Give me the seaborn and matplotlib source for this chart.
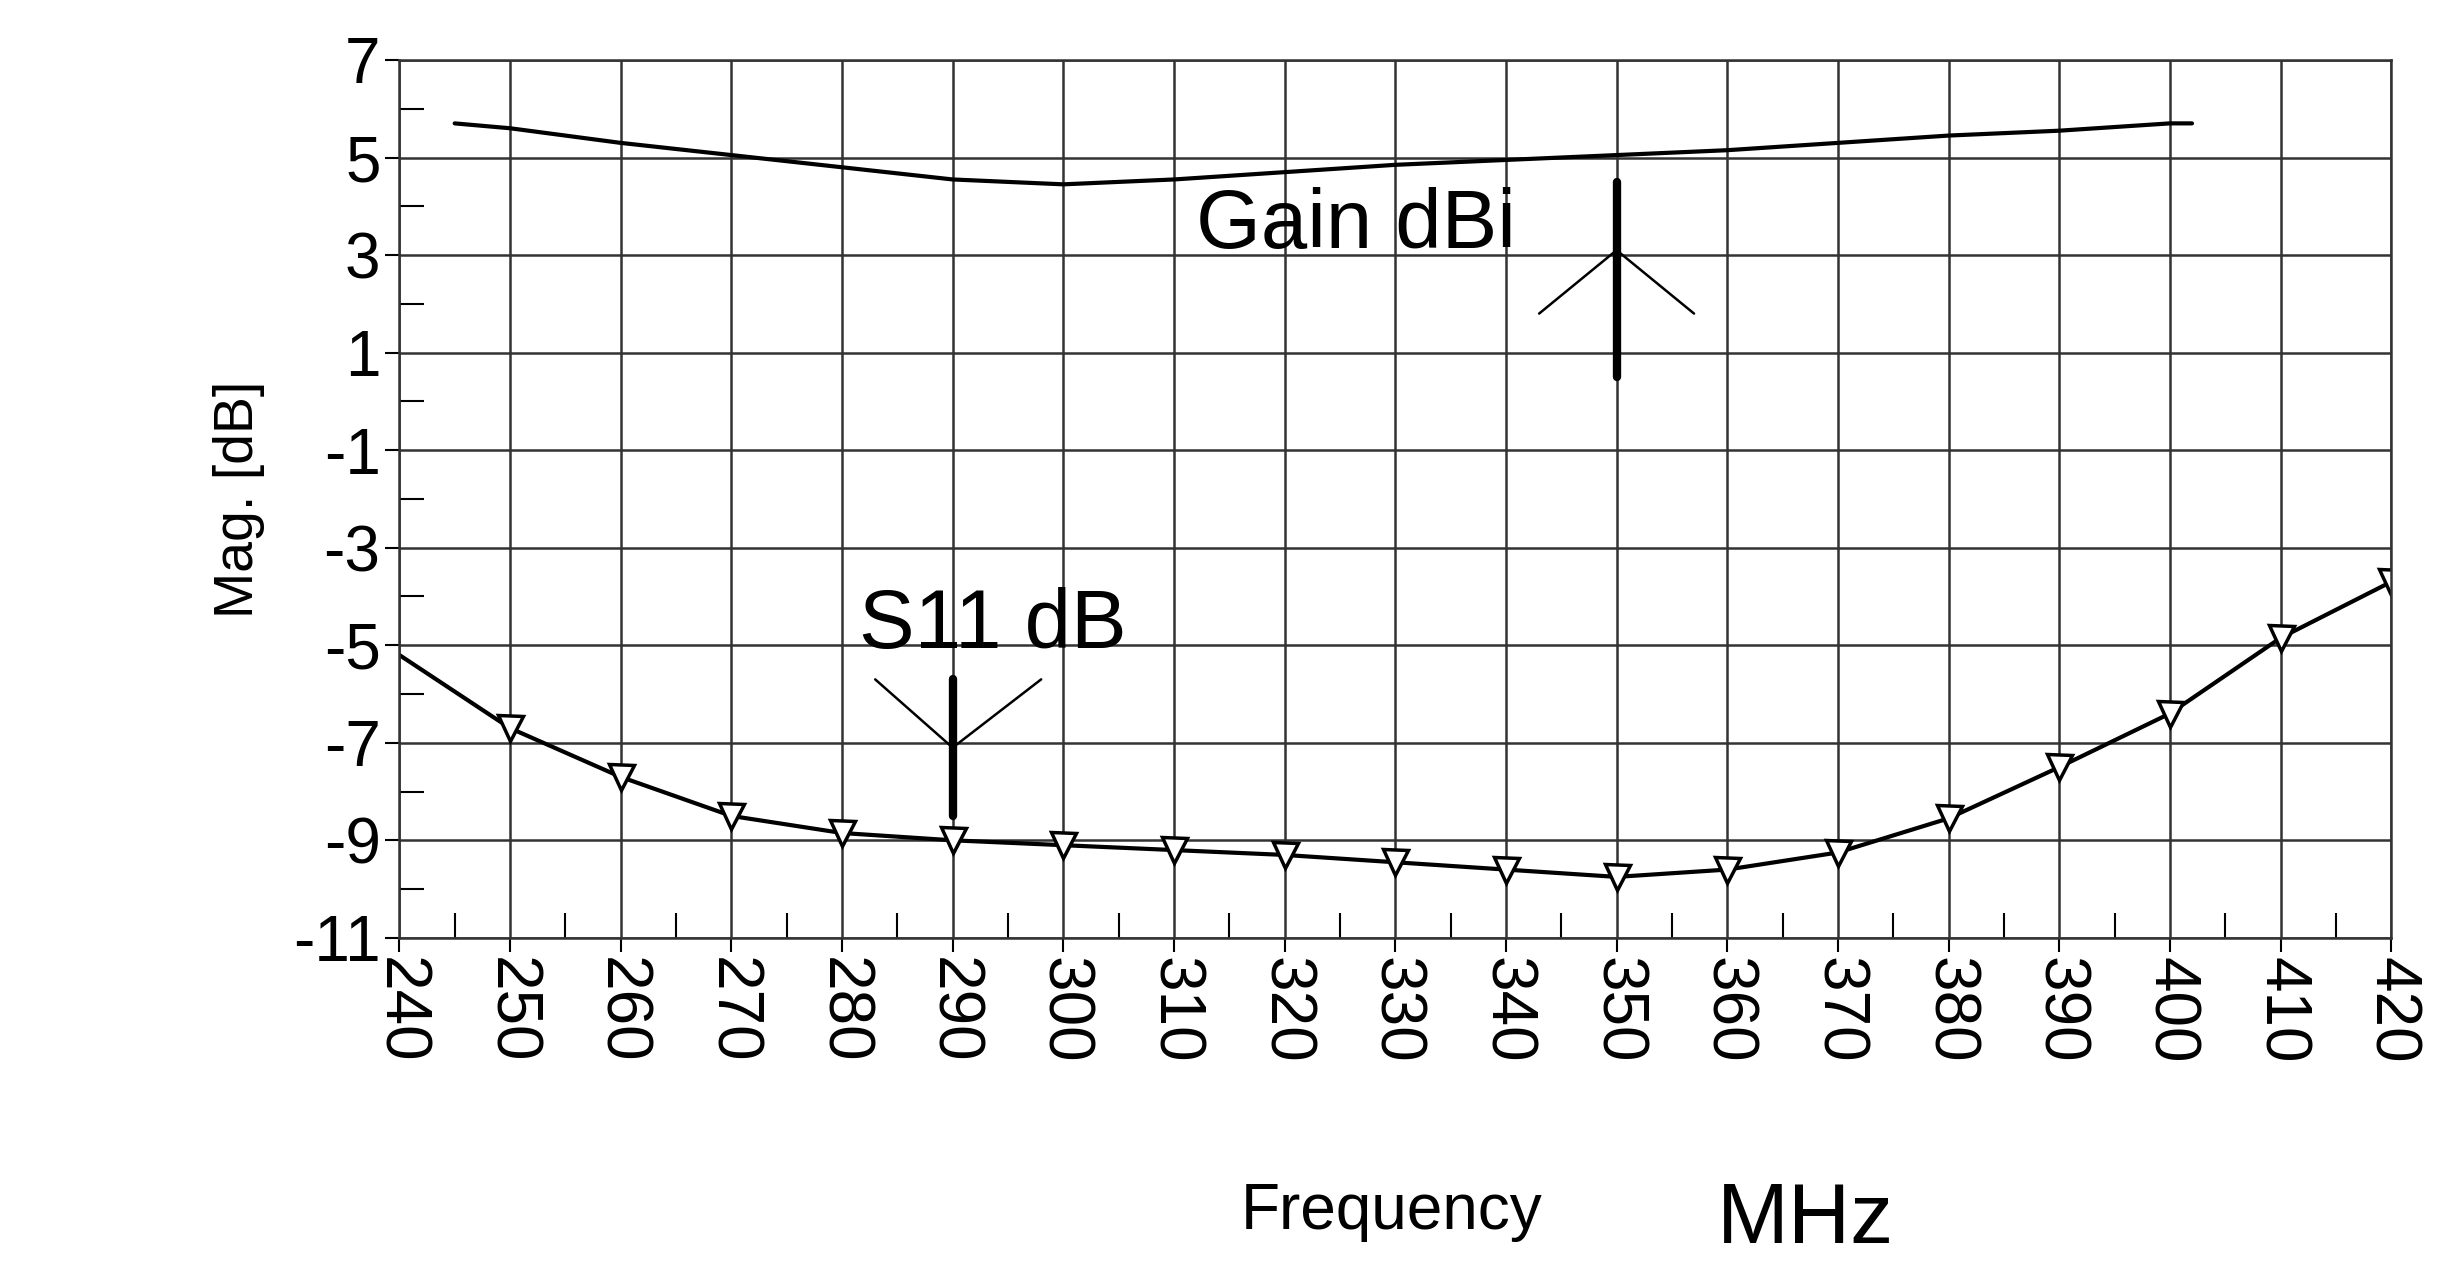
import matplotlib
matplotlib.use("Agg")
import matplotlib.pyplot as plt
import seaborn as sns
import pandas as pd
import numpy as np

gain_freq = [245, 250, 260, 270, 280, 290, 300, 310, 320, 330, 340, 350, 360, 370, 380, 390, 400, 402]
gain_db = [5.7, 5.6, 5.3, 5.05, 4.8, 4.55, 4.45, 4.55, 4.7, 4.85, 4.95, 5.05, 5.15, 5.3, 5.45, 5.55, 5.7, 5.7]
s11_freq = [240, 250, 260, 270, 280, 290, 300, 310, 320, 330, 340, 350, 360, 370, 380, 390, 400, 410, 420]
s11_db = [-5.2, -6.7, -7.7, -8.5, -8.85, -9.0, -9.1, -9.2, -9.3, -9.45, -9.6, -9.75, -9.6, -9.25, -8.55, -7.5, -6.4, -4.85, -3.7]
x_ticks = list(range(240, 421, 10))
y_ticks = list(range(-11, 8, 2))

sns.set_theme(style="white")
plt.rcParams['font.family'] = ['Liberation Sans', 'DejaVu Sans']
plt.rcParams['axes.unicode_minus'] = False
plt.rcParams['text.color'] = 'black'

fig = plt.figure(figsize=(24.5, 12.76), dpi=100)
ax = fig.add_axes([0.163, 0.265, 0.813, 0.688])

g = pd.DataFrame({"f": gain_freq, "v": gain_db})
s = pd.DataFrame({"f": s11_freq, "v": s11_db})
sns.lineplot(data=g, x="f", y="v", ax=ax, color="black", lw=3)
sns.lineplot(data=s, x="f", y="v", ax=ax, color="black", lw=3)
ax.plot(s["f"][1:], s["v"][1:], ls="none", marker="v", ms=18, mfc="white", mec="black", mew=2.5)

ax.set_xlim(240, 420)
ax.set_ylim(-11, 7)
ax.set_xticks(x_ticks)
ax.set_yticks(y_ticks)
ax.set_xticks(np.arange(245, 420, 10), minor=True)
ax.set_yticks(np.arange(-10, 7, 2), minor=True)
ax.grid(True, which="major", color="#333333", lw=1.8)
ax.tick_params(axis="x", which="major", labelsize=46, labelcolor="black", rotation=270, length=10, width=1.5, color="black", direction="out", bottom=True)
ax.tick_params(axis="y", which="major", labelsize=46, labelcolor="black", length=10, width=1.5, color="black", direction="out", left=True)
ax.tick_params(which="minor", length=18, width=1.5, color="black", direction="in", bottom=True, left=True)
for sp in ax.spines.values():
    sp.set_color("#333333"); sp.set_linewidth(1.8)
ax.set_xlabel("")
ax.set_ylabel("Mag. [dB]", fontsize=40, labelpad=20, color="black")

# markers
ax.plot([350, 350], [0.5, 4.5], color="black", lw=6)
ax.plot([343, 350, 357], [1.8, 3.1, 1.8], color="black", lw=1.8)
ax.text(312, 3.6, "Gain dBi", fontsize=60, va="center")
ax.plot([290, 290], [-8.5, -5.7], color="black", lw=6)
ax.plot([283, 290, 298], [-5.7, -7.1, -5.7], color="black", lw=1.8)
ax.text(281.5, -4.6, "S11 dB", fontsize=60, va="center")

fig.text(0.568, 0.05, "Frequency", fontsize=46, ha="center", va="center")
fig.text(0.737, 0.043, "MHz", fontsize=62, ha="center", va="center")

fig.savefig("out.png", dpi=100)
